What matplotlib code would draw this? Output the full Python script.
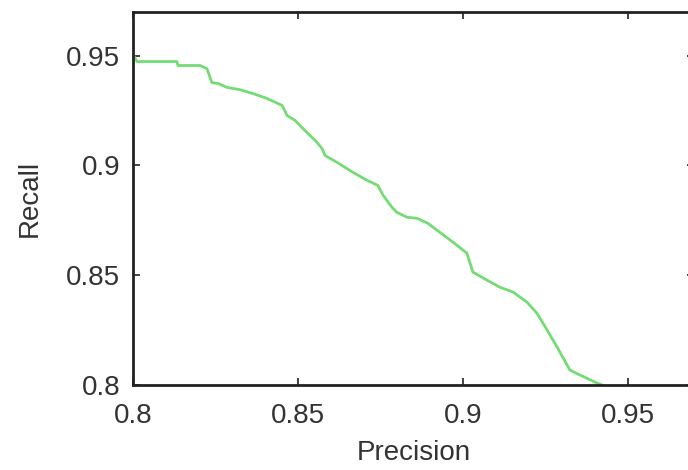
import matplotlib
matplotlib.use("Agg")
import matplotlib.pyplot as plt

# precision / recall curve
precision = [0.8000, 0.8012, 0.8133, 0.8136, 0.8203, 0.8224, 0.8239, 0.8258,
             0.8285, 0.8324, 0.8364, 0.8406, 0.8452, 0.8467, 0.8491, 0.8521,
             0.8552, 0.8573, 0.8582, 0.8618, 0.8667, 0.8709, 0.8742, 0.8758,
             0.8785, 0.8800, 0.8830, 0.8861, 0.8894, 0.8930, 0.8970, 0.9012,
             0.9030, 0.9073, 0.9112, 0.9152, 0.9194, 0.9224, 0.9255, 0.9285,
             0.9324, 0.9355, 0.9406, 0.9421]
recall = [0.9505, 0.9473, 0.9473, 0.9455, 0.9455, 0.9441, 0.9377, 0.9373,
          0.9355, 0.9345, 0.9327, 0.9305, 0.9273, 0.9227, 0.9205, 0.9159,
          0.9114, 0.9077, 0.9045, 0.9014, 0.8968, 0.8932, 0.8909, 0.8864,
          0.8809, 0.8786, 0.8764, 0.8759, 0.8736, 0.8695, 0.8650, 0.8600,
          0.8514, 0.8477, 0.8445, 0.8423, 0.8377, 0.8327, 0.8250, 0.8173,
          0.8068, 0.8045, 0.8009, 0.8000]

xticks = [0.8, 0.85, 0.9, 0.95]
yticks = [0.8, 0.85, 0.9, 0.95]
tick_labels = ["0.8", "0.85", "0.9", "0.95"]

plt.rcParams["font.family"] = ["Liberation Sans", "DejaVu Sans"]
plt.rcParams["font.size"] = 20

fig = plt.figure(figsize=(6.88, 4.70), dpi=100)
ax = fig.add_axes([0.1933, 0.1809, 0.8154, 0.7942])

ax.plot(precision, recall, color="#74dc74", lw=2)

ax.set_xlim(0.8, 0.97)
ax.set_ylim(0.8, 0.97)
ax.set_xticks(xticks)
ax.set_xticklabels(tick_labels)
ax.set_yticks(yticks)
ax.set_yticklabels(tick_labels)
ax.tick_params(direction="in", length=5, width=1.2, color="#222222",
               top=True, right=True, labelcolor="#333333")
ax.tick_params(axis="x", pad=13)
ax.tick_params(axis="y", pad=9)
for s in ax.spines.values():
    s.set_linewidth(2)
    s.set_color("#222222")

ax.set_xlabel("Precision", color="#333333", labelpad=8)
ax.set_ylabel("Recall", color="#333333", labelpad=17)

fig.savefig("out.png", dpi=100)
